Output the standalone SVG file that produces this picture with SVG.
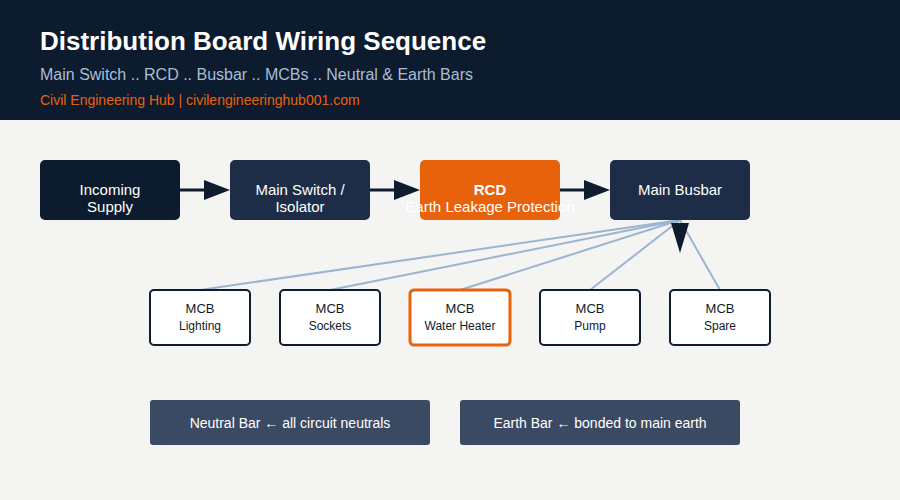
<svg xmlns="http://www.w3.org/2000/svg" width="900" height="500" viewBox="0 0 900 500">
<defs>
<marker id="ah" markerWidth="10" markerHeight="10" refX="9" refY="5" orient="auto" markerUnits="userSpaceOnUse"><path d="M0,0 L10,5 L0,10 Z" fill="#0f1c2e"/></marker>
<style>
text{font-family:"Liberation Sans",Arial,sans-serif}
.top{fill:#1e2d47}
.tw{fill:#fff;font-size:15px;text-anchor:middle}
.mcb{fill:#fff;stroke:#0f1c2e;stroke-width:2}
.mt{fill:#0f1c2e;font-size:13px;text-anchor:middle}
.ms{fill:#0f1c2e;font-size:12px;text-anchor:middle}
.bar{fill:#3b4a63}
.bt{fill:#fff;font-size:14px;text-anchor:middle}
.fl{stroke:#9bb5d0;stroke-width:2;fill:none}
.ar{stroke:#0f1c2e;stroke-width:3;fill:none}
</style>
</defs>
<rect width="900" height="500" fill="#f4f4f2"/>
<rect width="900" height="120" fill="#0d1b2e"/>
<text x="40" y="50" font-size="26" font-weight="bold" fill="#fff">Distribution Board Wiring Sequence</text>
<text x="40" y="80" font-size="16" fill="#a9bdd6">Main Switch .. RCD .. Busbar .. MCBs .. Neutral &amp; Earth Bars</text>
<text x="40" y="105" font-size="14" fill="#e8620c">Civil Engineering Hub | civilengineeringhub001.com</text>
<g id="connectors">
<line class="ar" x1="180" y1="190" x2="205" y2="190"/><path d="M204,180 L230,190 L204,200 Z" fill="#0f1c2e"/>
<line class="ar" x1="370" y1="190" x2="395" y2="190"/><path d="M394,180 L420,190 L394,200 Z" fill="#0f1c2e"/>
<line class="ar" x1="560" y1="190" x2="585" y2="190"/><path d="M584,180 L610,190 L584,200 Z" fill="#0f1c2e"/>
<line class="fl" x1="680" y1="220" x2="200" y2="290"/>
<line class="fl" x1="680" y1="220" x2="330" y2="290"/>
<line class="fl" x1="680" y1="220" x2="460" y2="290"/>
<line class="fl" x1="680" y1="220" x2="590" y2="290"/>
<line class="fl" x1="680" y1="220" x2="720" y2="290"/>
<path d="M671,223 L689,223 L680,253 Z" fill="#0f1c2e"/>
</g>
<g id="incoming"><rect x="40" y="160" width="140" height="60" rx="5" fill="#0d1b2e"/><text class="tw" x="110" y="195">Incoming</text><text class="tw" x="110" y="212">Supply</text></g>
<g id="mainswitch"><rect class="top" x="230" y="160" width="140" height="60" rx="5"/><text class="tw" x="300" y="195">Main Switch /</text><text class="tw" x="300" y="212">Isolator</text></g>
<g id="rcd"><rect x="420" y="160" width="140" height="60" rx="5" fill="#e8620c"/><text class="tw" x="490" y="195" font-weight="bold">RCD</text><text class="tw" x="490" y="212" font-size="13">Earth Leakage Protection</text></g>
<g id="busbar"><rect class="top" x="610" y="160" width="140" height="60" rx="5"/><text class="tw" x="680" y="195">Main Busbar</text></g>
<g id="mcb1"><rect class="mcb" x="150" y="290" width="100" height="55" rx="4"/><text class="mt" x="200" y="313">MCB</text><text class="ms" x="200" y="330">Lighting</text></g>
<g id="mcb2"><rect class="mcb" x="280" y="290" width="100" height="55" rx="4"/><text class="mt" x="330" y="313">MCB</text><text class="ms" x="330" y="330">Sockets</text></g>
<g id="mcb3"><rect class="mcb" x="410" y="290" width="100" height="55" rx="4" style="stroke:#e8620c;stroke-width:3"/><text class="mt" x="460" y="313">MCB</text><text class="ms" x="460" y="330">Water Heater</text></g>
<g id="mcb4"><rect class="mcb" x="540" y="290" width="100" height="55" rx="4"/><text class="mt" x="590" y="313">MCB</text><text class="ms" x="590" y="330">Pump</text></g>
<g id="mcb5"><rect class="mcb" x="670" y="290" width="100" height="55" rx="4"/><text class="mt" x="720" y="313">MCB</text><text class="ms" x="720" y="330">Spare</text></g>
<g id="neutral"><rect class="bar" x="150" y="400" width="280" height="45" rx="3"/><text class="bt" x="290" y="428">Neutral Bar ← all circuit neutrals</text></g>
<g id="earth"><rect class="bar" x="460" y="400" width="280" height="45" rx="3"/><text class="bt" x="600" y="428">Earth Bar ← bonded to main earth</text></g>
</svg>
